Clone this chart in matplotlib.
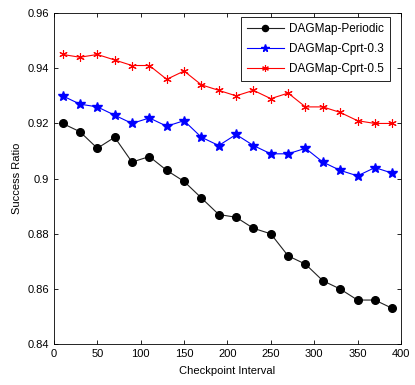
import numpy as np
import matplotlib
matplotlib.use("Agg")
import matplotlib.pyplot as plt

plt.rcParams['font.family'] = ['Liberation Sans', 'DejaVu Sans']

# checkpoint intervals
interval = [10, 30, 50, 70, 90, 110, 130, 150, 170, 190,
            210, 230, 250, 270, 290, 310, 330, 350, 370, 390]

periodic = [0.920, 0.917, 0.911, 0.915, 0.906, 0.908, 0.903, 0.899, 0.893, 0.887,
            0.886, 0.882, 0.880, 0.872, 0.869, 0.863, 0.860, 0.856, 0.856, 0.853]
cprt03 = [0.930, 0.927, 0.926, 0.923, 0.920, 0.922, 0.919, 0.921, 0.915, 0.912,
          0.916, 0.912, 0.909, 0.909, 0.911, 0.906, 0.903, 0.901, 0.904, 0.902]
cprt05 = [0.945, 0.944, 0.945, 0.943, 0.941, 0.941, 0.936, 0.939, 0.934, 0.932,
          0.930, 0.932, 0.929, 0.931, 0.926, 0.926, 0.924, 0.921, 0.920, 0.920]

xticks = [0, 50, 100, 150, 200, 250, 300, 350, 400]
yticks = [0.84, 0.86, 0.88, 0.9, 0.92, 0.94, 0.96]
yticklabels = ["0.84", "0.86", "0.88", "0.9", "0.92", "0.94", "0.96"]

fig = plt.figure(figsize=(4.15, 3.85), dpi=100)
ax = fig.add_axes([0.130, 0.106, 0.836, 0.860])

ax.plot(interval, periodic, '-o', color='#222222', mfc='black', mec='black',
        lw=0.8, markersize=5.5, label="DAGMap-Periodic")
ax.plot(interval, cprt03, '-*', color='blue', lw=0.8, markersize=7,
        label="DAGMap-Cprt-0.3")
ax.plot(interval, cprt05, '-', color='red', lw=0.8, marker=(6, 2, 0), markersize=6,
        markeredgewidth=0.8, label="DAGMap-Cprt-0.5")

ax.set_xlim(0, 400)
ax.set_ylim(0.84, 0.96)
ax.set_xticks(xticks)
ax.set_yticks(yticks)
ax.set_yticklabels(yticklabels)
ax.tick_params(direction='in', top=True, right=True, labelsize=8, length=3, width=0.6)
for s in ax.spines.values():
    s.set_linewidth(0.6)

ax.set_xlabel("Checkpoint Interval", fontsize=8, labelpad=5)
ax.set_ylabel("Success Ratio", fontsize=8, labelpad=4)

leg = ax.legend(loc='upper right', bbox_to_anchor=(0.968, 0.988), borderaxespad=0,
                fontsize=8.5, fancybox=False, framealpha=1, edgecolor='black',
                handlelength=3.2, labelspacing=0.7, numpoints=1, markerscale=0.8,
                borderpad=0.5, handletextpad=0.4)
leg.get_frame().set_linewidth(0.6)

fig.savefig("out.png", dpi=100)
